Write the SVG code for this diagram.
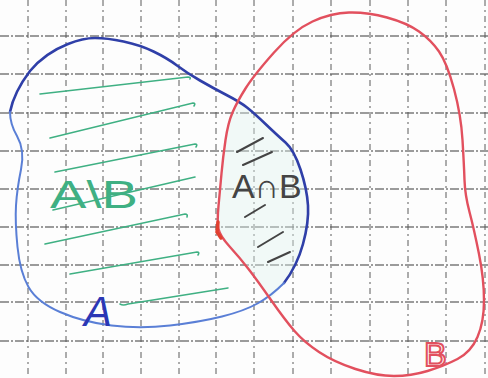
<svg xmlns="http://www.w3.org/2000/svg" width="488" height="378" viewBox="0 0 488 378">
<style>
.gh{stroke:#3a3a3a;stroke-width:1.1;stroke-dasharray:9 2 2 2;fill:none}
.gv{stroke:#5a5a5a;stroke-width:1;stroke-dasharray:6 4 2 4;fill:none}
.hatch{stroke:#3fb083;stroke-width:1.6;fill:none;stroke-linecap:round}
.hatch2{stroke:#444;stroke-width:2;fill:none;stroke-linecap:round}
.lbl{font-family:"Liberation Sans","DejaVu Sans",sans-serif}
</style>
<rect width="488" height="378" fill="#fdfdfd"/>
<g id="grid">
<path class="gh" d="M0 36H488M0 74H488M0 113H488M0 151H488M0 189H488M0 227H488M0 265H488M0 302H488M0 341H488"/>
<path class="gv" d="M28 0V378M66 0V378M103 0V378M141 0V378M179 0V378M216 0V378M254 0V378M293 0V378M331 0V378M370 0V378M408 0V378M446 0V378M485 0V378"/>
</g>
<g id="intersection">
<path d="M237 102 Q228 123 225.5 140 Q223 157 221.5 173.5 Q220 190 218.5 206 Q217 222 218.5 229 Q220 236 230 247 Q240 258 248.5 269 Q257 280 271 299 L284 283 Q297 266 303 244 Q309 222 308 205.5 Q307 189 300.5 169.5 Q294 150 285.5 142.5 Q277 135 265.5 124 Q254 113 237 102Z" fill="#dff3ee" opacity="0.4"/>
<g id="hatch-intersection">
<path class="hatch2" d="M237 152L263 138M243 165L272 152M245 217L265 205M258 247L283 232M268 262L290 252"/>
</g>
<text id="label-intersection" class="lbl" x="232" y="198" font-size="34" fill="#444">A∩B</text>
</g>
<g id="set-A">
<path d="M10 112 Q14 92 30 71 Q45 53 68 44 Q83 38 95 38 Q107 38 123.5 41.5 Q140 45 153.5 51.5 Q167 58 177 65.5 Q187 73 200 80.5 Q213 88 226.5 95 Q240 102 247 107.5 Q254 113 265.5 124 Q277 135 285.5 142.5 Q294 150 300.5 169.5 Q307 189 308 205.5 Q309 222 303 244 Q297 266 284 283" fill="none" stroke="#2f3fa8" stroke-width="2.6" stroke-linecap="round"/>
<path d="M284 283 Q271 296 257.5 303.5 Q244 311 222 316.5 Q200 322 170 325.5 Q140 329 111.5 325.5 Q83 322 60 312 Q37 302 28.5 287 Q20 272 17.5 247 Q15 222 16 205.5 Q17 189 21 169.5 Q25 150 17 136 Q10 124 10 112" fill="none" stroke="#5a7fd6" stroke-width="2" stroke-linecap="round"/>
<g id="hatch-A">
<path class="hatch" d="M40 94L188 77q3 0 2 2M50 138L193 103q3 0 1 3M55 172L195 144q3 0 1 3M53 210L195 177M45 244L185 214q3 0 2 3M70 274L197 252q3 0 1 3M120 304q3 2 8 0L228 288"/>
</g>
<text id="label-A-minus-B" class="lbl" x="50" y="208" font-size="38" fill="#3fb083" textLength="88" lengthAdjust="spacingAndGlyphs">A\B</text>
<text id="label-A" class="lbl" x="84" y="326" font-size="42" font-style="italic" fill="#2b37b5">A</text>
</g>
<g id="set-B">
<path d="M232.5 112.5 Q237 102 245.5 88.5 Q254 75 274 52.5 Q294 30 312.5 21.5 Q331 13 349 12.5 Q367 12 387 17.5 Q407 23 419 31.5 Q431 40 439 51.5 Q447 63 454 89 Q461 115 462.5 140 Q464 165 464.5 180 Q465 195 469.5 212 Q474 229 479 254 Q484 279 484 300.5 Q484 322 477.5 337 Q471 352 457.5 359 Q444 366 427.5 371 Q411 376 394 376 Q377 376 355.5 369 Q334 362 319 352 Q304 342 294.5 331 Q285 320 271 300 Q257 280 248.5 269 Q240 258 230 247 Q220 236 218.5 229 Q217 222 218.5 206 Q220 190 221.5 173.5 Q223 157 225.5 140 Q228 123 232.5 112.5Z" fill="none" stroke="#e2505e" stroke-width="2.4"/>
<path d="M218 222 L217 232 L221 238" fill="none" stroke="#e04030" stroke-width="3.5" stroke-linecap="round"/>
<text id="label-B" class="lbl" x="424" y="366" font-size="34" fill="none" stroke="#e2505e" stroke-width="2">B</text>
</g>
<g id="connectors"/>
</svg>
